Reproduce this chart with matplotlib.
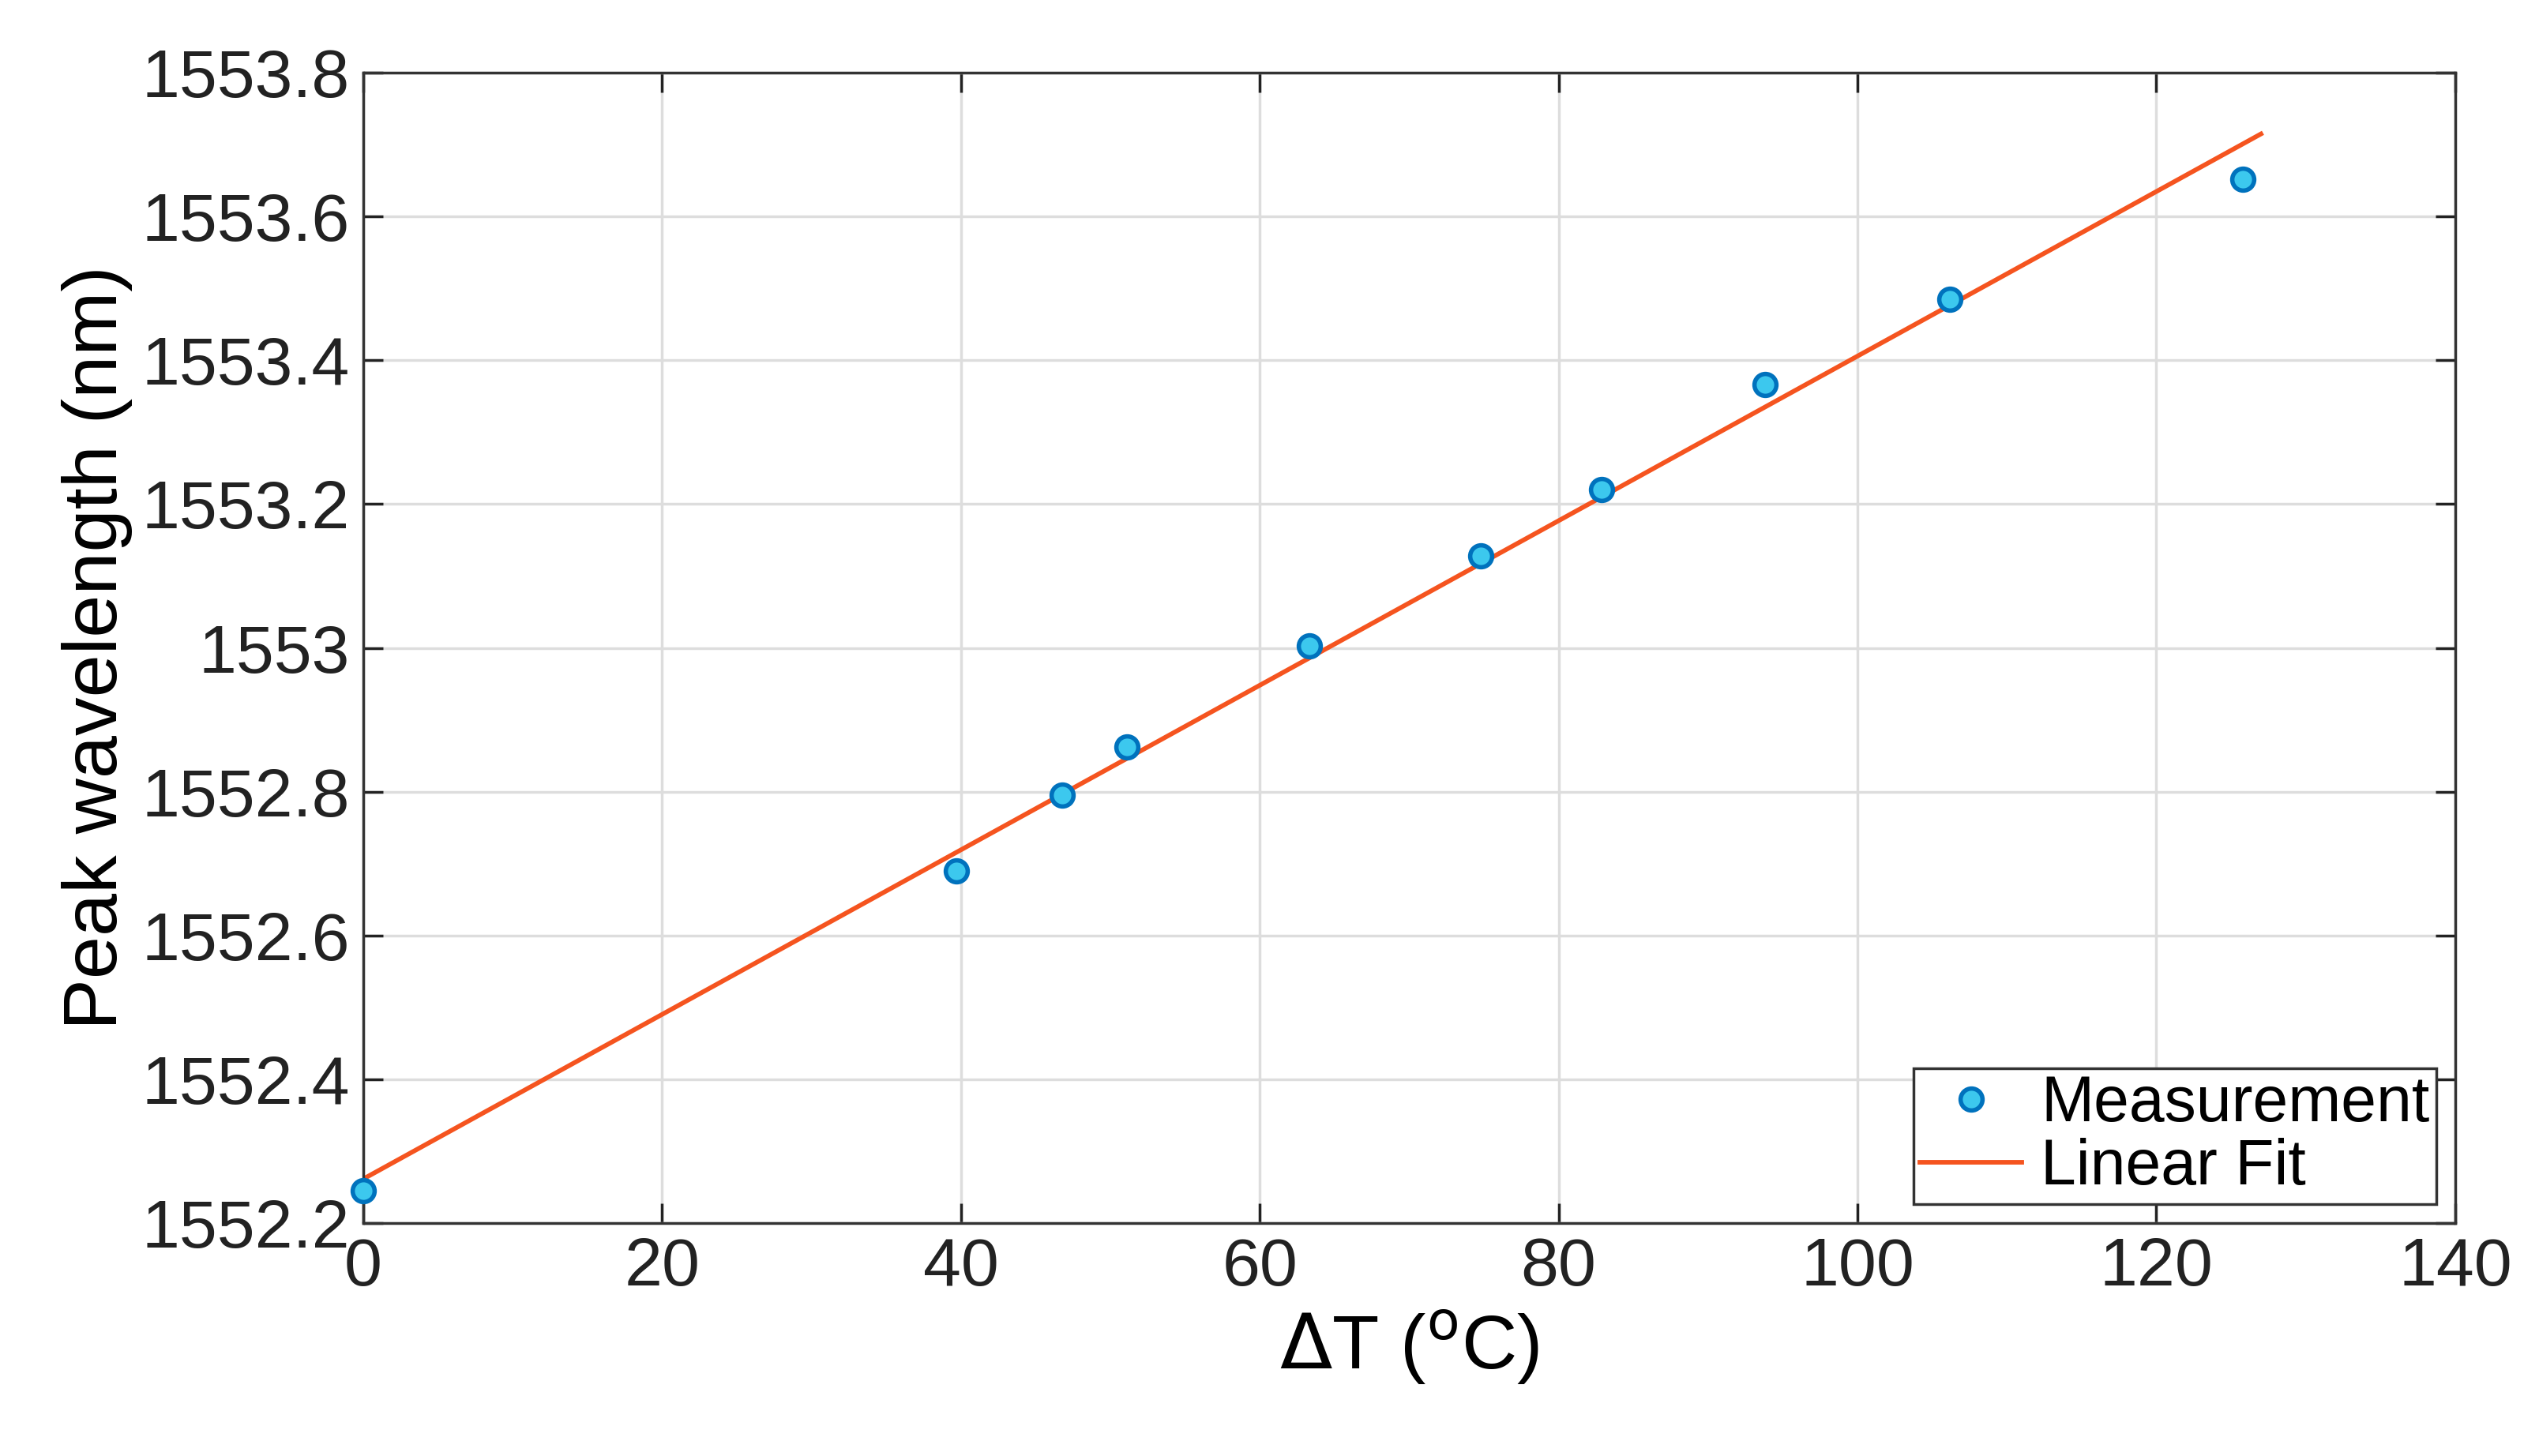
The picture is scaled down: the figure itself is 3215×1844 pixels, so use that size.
import numpy as np
import matplotlib
matplotlib.use("Agg")
import matplotlib.pyplot as plt

# measured peak wavelength vs temperature change
delta_t = [0, 39.7, 46.8, 51.1, 63.3, 74.8, 82.9, 93.8, 106.2, 125.8]
peak_nm = [1552.245, 1552.690, 1552.795, 1552.862, 1553.003, 1553.128,
           1553.220, 1553.366, 1553.485, 1553.652]
fit_range = [0, 127]

plt.rcParams['font.family'] = ['Liberation Sans', 'DejaVu Sans']

fig = plt.figure(figsize=(32.15, 18.44), dpi=100)
ax = fig.add_axes([0.143, 0.160, 0.824, 0.790])

coef = np.polyfit(delta_t, peak_nm, 1)
fx = np.array(fit_range)
ax.plot(fx, np.polyval(coef, fx), color='#F5541F', lw=4.2, label='Linear Fit', zorder=2)
ax.plot(delta_t, peak_nm, 'o', ms=20, mfc='#3CC8EE', mec='#0072BD', mew=4,
        label='Measurement', zorder=3, clip_on=False)

ax.set_xlim(0, 140)
ax.set_ylim(1552.2, 1553.8)
ax.set_xticks(np.arange(0, 141, 20))
ax.set_yticks(np.arange(1552.2, 1553.81, 0.2))
ax.set_yticklabels(['1552.2', '1552.4', '1552.6', '1552.8', '1553',
                    '1553.2', '1553.4', '1553.6', '1553.8'])
ax.grid(True, color='#DDDDDD', lw=2.5)
ax.set_axisbelow(True)
ax.tick_params(direction='in', length=18, width=2.5, top=True, right=True,
               labelsize=62, pad=12, colors='#222222')
for s in ax.spines.values():
    s.set_linewidth(2.5)
    s.set_color('#333333')

ax.set_xlabel(r'$\Delta$T ($^{\rm o}$C)', fontsize=70, labelpad=8)
ax.set_ylabel('Peak wavelength (nm)', fontsize=70, labelpad=8)

h, l = ax.get_legend_handles_labels()
leg = ax.legend(h[::-1], l[::-1], loc='lower right', fontsize=58, fancybox=False,
                edgecolor='#333333', framealpha=1, borderpad=0.1, labelspacing=0.05,
                handlelength=1.6, handletextpad=0.3, borderaxespad=0.3)
leg.get_frame().set_linewidth(2.5)

fig.savefig('out.png', dpi=100)
